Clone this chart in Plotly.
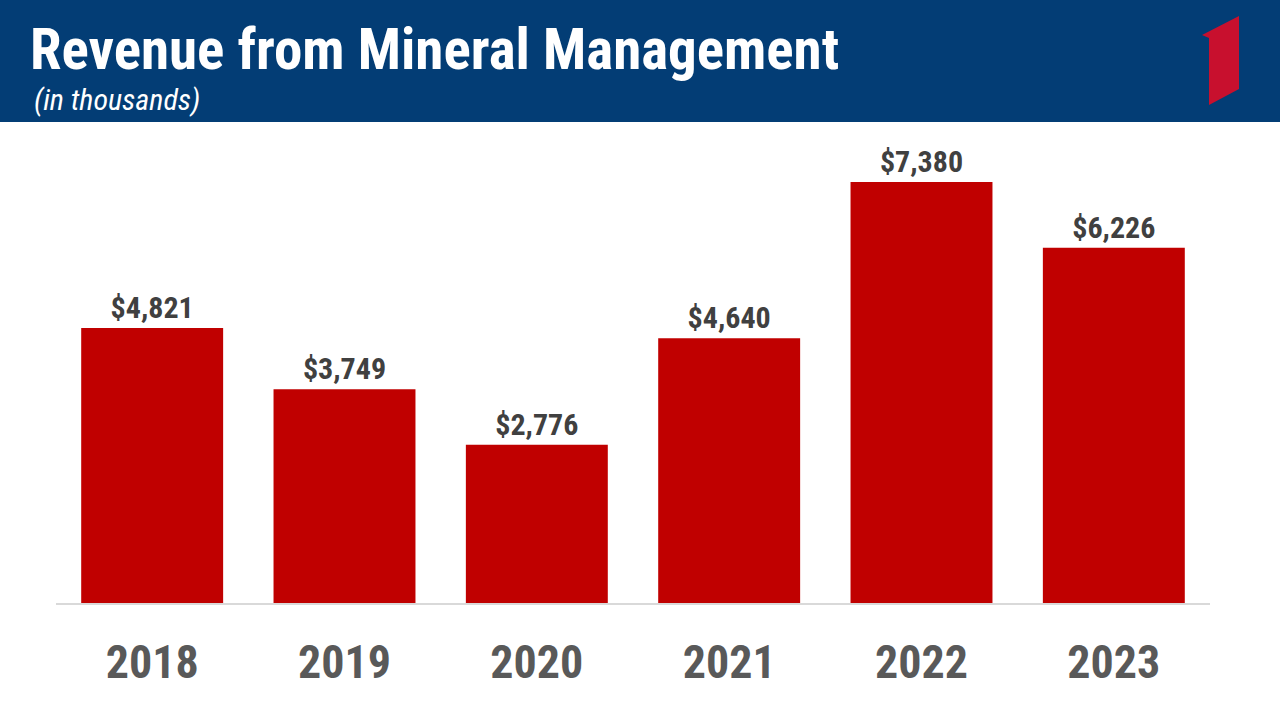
import plotly.graph_objects as go

years = ["2018", "2019", "2020", "2021", "2022", "2023"]
revenue = [4821, 3749, 2776, 4640, 7380, 6226]
labels = ["$4,821", "$3,749", "$2,776", "$4,640", "$7,380", "$6,226"]
title_text = "Revenue from Mineral Management"
subtitle_text = "(in thousands)"

W, H = 1280, 713
FONT = "Roboto, Liberation Sans, Arial, sans-serif"

fig = go.Figure()
fig.add_trace(go.Bar(
    x=years, y=revenue, text=labels, textposition="outside", constraintext="none",
    marker=dict(color="#C00000", line=dict(width=0)),
    textfont=dict(family=FONT, size=30, color="#404040", weight="bold"),
    cliponaxis=False, hoverinfo="skip",
))

# page-sized overlay axes (pixel coordinates) for the header texts
fig.add_trace(go.Scatter(
    x=[30], y=[55], text=[title_text], mode="text", textposition="middle right",
    textfont=dict(family=FONT, size=57, color="white", weight="bold"),
    xaxis="x2", yaxis="y2", hoverinfo="skip", cliponaxis=False,
))
fig.add_trace(go.Scatter(
    x=[34], y=[102], text=[subtitle_text], mode="text", textposition="middle right",
    textfont=dict(family=FONT, size=30, color="white", style="italic"),
    xaxis="x2", yaxis="y2", hoverinfo="skip", cliponaxis=False,
))

logo = [(1202, 35), (1239, 16), (1239, 89), (1209, 105), (1209, 38)]
path = "M " + " L ".join(f"{x},{y}" for x, y in logo) + " Z"
shapes = [
    dict(type="rect", xref="x2", yref="y2", x0=0, x1=W, y0=0, y1=122,
         fillcolor="#033D75", line=dict(width=0), layer="below"),
    dict(type="path", xref="x2", yref="y2", path=path,
         fillcolor="#C8102E", line=dict(width=0), layer="above"),
]

fig.update_layout(
    width=W, height=H,
    margin=dict(l=0, r=0, t=0, b=0),
    paper_bgcolor="white", plot_bgcolor="rgba(0,0,0,0)",
    showlegend=False, bargap=0.262,
    shapes=shapes,
    xaxis=dict(domain=[56 / W, 1210 / W], showgrid=False, showline=True,
               linecolor="#D9D9D9", linewidth=2, ticks="", ticklabelstandoff=18,
               tickfont=dict(family=FONT, size=46, color="#595959", weight="bold"),
               fixedrange=True),
    yaxis=dict(domain=[1 - 603 / H, 1 - 125 / H], range=[0, 8380], visible=False,
               showgrid=False, zeroline=False, fixedrange=True),
    xaxis2=dict(domain=[0, 1], range=[0, W], visible=False, anchor="y2", fixedrange=True),
    yaxis2=dict(domain=[0, 1], range=[H, 0], visible=False, anchor="x2", fixedrange=True),
)

css = ("body{margin:0;padding:0;overflow:hidden}"
       "svg text{font-stretch:75% !important}")
post = ("var s=document.createElement('style');s.textContent='" + css + "';"
        "document.head.appendChild(s);")

fig.write_html("out.html", post_script=post, config={"displayModeBar": False})
